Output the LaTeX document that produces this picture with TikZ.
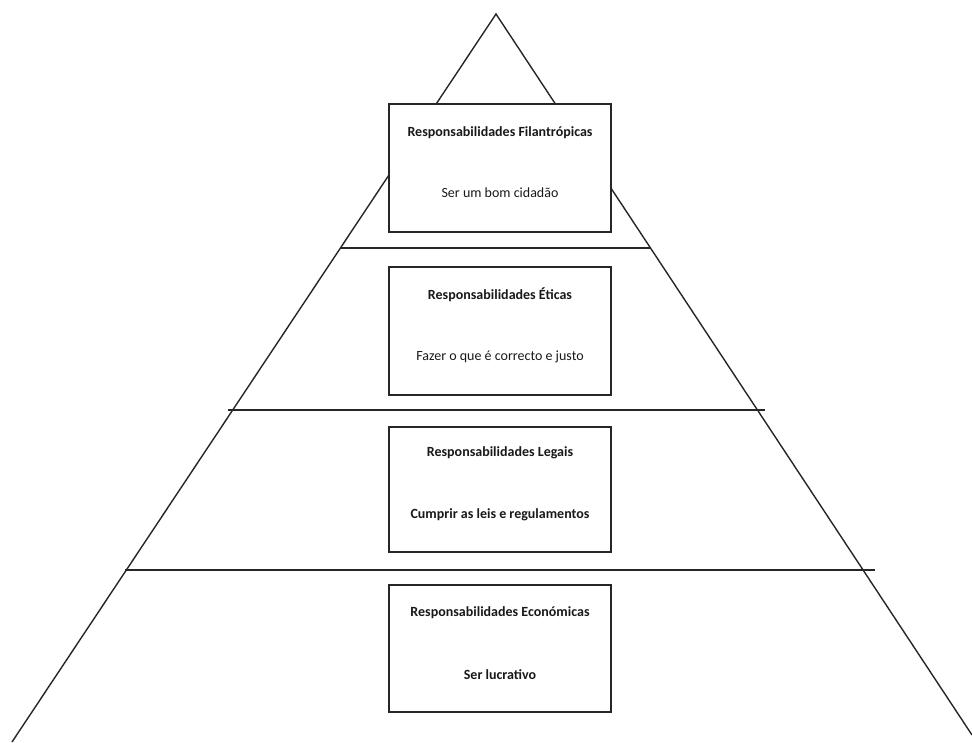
\documentclass[tikz,border=0pt]{standalone}
\usepackage{fontspec}
\setmainfont{Carlito}
\begin{document}
\begin{tikzpicture}[x=1pt,y=-1pt,
  edge/.style={line width=1.4pt,draw=black!85},
  box/.style={draw=black!85,line width=1.6pt,fill=white,minimum width=222pt,minimum height=128pt,inner sep=0pt},
  ttl/.style={font=\fontsize{14}{16}\selectfont\bfseries,text=black!90},
  sub/.style={font=\fontsize{14}{16}\selectfont,text=black!90},
  subb/.style={font=\fontsize{14}{16}\selectfont\bfseries,text=black!90}]
\useasboundingbox (0,0) rectangle (972,743);
\coordinate (apex) at (496,14);
\coordinate (bl) at (12,742);
\coordinate (br) at (972,735);
\draw[edge] (bl) -- (apex) -- (br);
\coordinate (l1a) at (341,248); \coordinate (l1b) at (650,248);
\coordinate (l2a) at (228,410); \coordinate (l2b) at (765,410);
\coordinate (l3a) at (125,570); \coordinate (l3b) at (875,570);
\draw[edge] (l1a) -- (l1b);
\draw[edge] (l2a) -- (l2b);
\draw[edge] (l3a) -- (l3b);
\node[box] (b1) at (500,168) {};
\node[box,minimum height=128pt] (b2) at (500,331) {};
\node[box,minimum height=125pt] (b3) at (500,489.5) {};
\node[box,minimum height=127pt] (b4) at (500,648.5) {};
\node[ttl] (t1) at (500,133) {Responsabilidades Filantrópicas};
\node[sub] (s1) at (500,193) {Ser um bom cidadão};
\node[ttl] (t2) at (500,295) {Responsabilidades Éticas};
\node[sub] (s2) at (500,357) {Fazer o que é correcto e justo};
\node[ttl] (t3) at (500,453) {Responsabilidades Legais};
\node[subb] (s3) at (500,515) {Cumprir as leis e regulamentos};
\node[ttl] (t4) at (500,613) {Responsabilidades Económicas};
\node[subb] (s4) at (500,675) {Ser lucrativo};
\end{tikzpicture}
\end{document}
